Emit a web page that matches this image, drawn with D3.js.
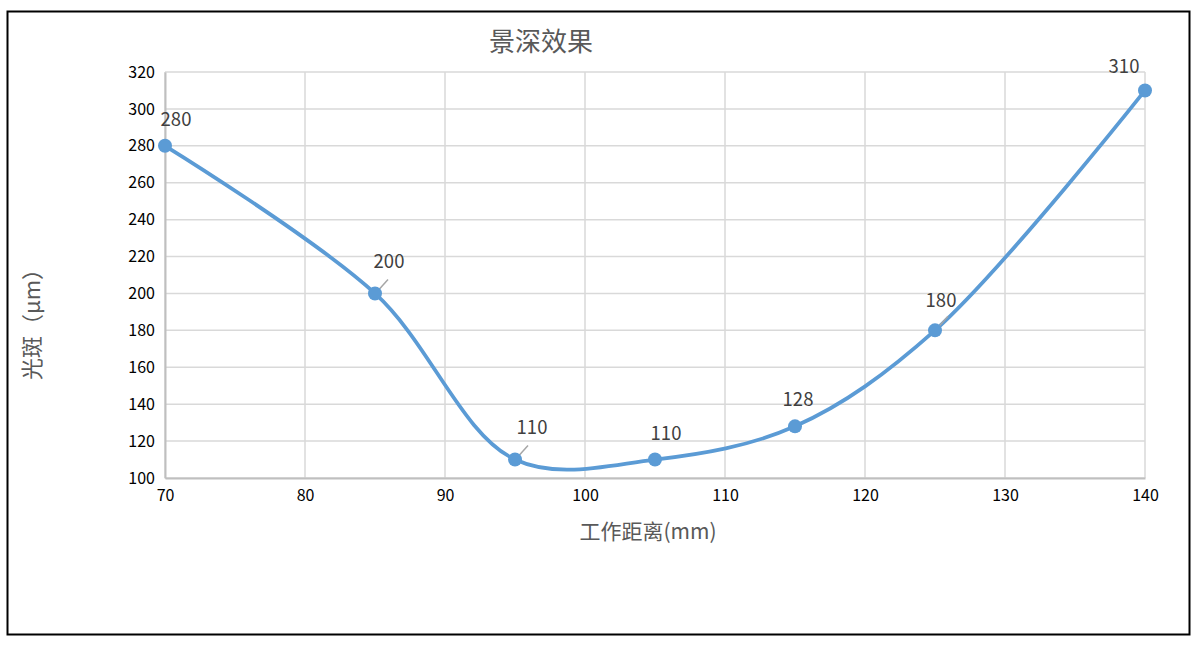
<!DOCTYPE html>
<html>
<head>
<meta charset="utf-8">
<script src="https://cdn.jsdelivr.net/npm/d3@7"></script>
<style>
body { margin: 0; background: #fff; }
text { font-family: "Noto Sans CJK SC", "Noto Sans", sans-serif; }
</style>
</head>
<body>
<div class="chart"></div>
<script>
// data
const distances = [70, 85, 95, 105, 115, 125, 140];
const spots = [280, 200, 110, 110, 128, 180, 310];
const xTicks = [70, 80, 90, 100, 110, 120, 130, 140];
const yTicks = [100, 120, 140, 160, 180, 200, 220, 240, 260, 280, 300, 320];
// label offsets from the point, and whether a leader line is drawn
const labelDx = [11, 14, 17, 11, 3, 6, -21];
const labelDy = [-26, -31, -32, -26, -26, -29, -23];
const leader = [false, true, true, false, false, true, false];

const width = 1199;
const height = 649;
const svg = d3.select('.chart')
    .append('svg')
    .attr('width', width)
    .attr('height', height)

svg.append('rect')
    .attr('x', 7.5)
    .attr('y', 11.5)
    .attr('width', 1182)
    .attr('height', 623)
    .attr('fill', '#fff')
    .attr('stroke', '#000')
    .attr('stroke-width', 2)

const x = d3.scaleLinear().domain([70, 140]).range([165, 1145]);
const y = d3.scaleLinear().domain([100, 320]).range([478, 72]);

// grid
svg.selectAll('.hgrid')
    .data(yTicks)
    .enter()
    .append('line')
    .attr('x1', x(70))
    .attr('x2', x(140))
    .attr('y1', d => y(d))
    .attr('y2', d => y(d))
    .attr('stroke', '#d9d9d9')
    .attr('stroke-width', 1.5)

svg.selectAll('.vgrid')
    .data(xTicks)
    .enter()
    .append('line')
    .attr('x1', d => x(d))
    .attr('x2', d => x(d))
    .attr('y1', y(100))
    .attr('y2', y(320))
    .attr('stroke', '#d9d9d9')
    .attr('stroke-width', 1.5)

const xAxis = svg.append('g')
    .attr('transform', `translate(0,${y(100)})`)
    .call(d3.axisBottom(x).tickValues(xTicks).tickSize(0).tickPadding(12))
const yAxis = svg.append('g')
    .attr('transform', `translate(${x(70)},0)`)
    .call(d3.axisLeft(y).tickValues(yTicks).tickSize(0).tickPadding(10))

svg.selectAll('.domain')
    .attr('stroke', '#bfbfbf')
    .attr('stroke-width', 2)
svg.selectAll('.tick text')
    .attr('font-size', 16)
    .attr('fill', '#000')
    .attr('font-family', '"Noto Sans", sans-serif')

// titles
svg.append('text')
    .text('景深效果')
    .attr('x', 541)
    .attr('y', 51)
    .attr('text-anchor', 'middle')
    .attr('font-size', 26)
    .attr('fill', '#595959')

svg.append('text')
    .text('工作距离(mm)')
    .attr('x', 648)
    .attr('y', 539)
    .attr('text-anchor', 'middle')
    .attr('font-size', 21)
    .attr('fill', '#595959')

svg.append('text')
    .text('光斑（μm）')
    .attr('transform', 'translate(40,319) rotate(-90)')
    .attr('text-anchor', 'middle')
    .attr('font-size', 22)
    .attr('fill', '#595959')

// line
const pts = distances.map((d, i) => [d, spots[i]]);
const line = d3.line()
    .x(d => x(d[0]))
    .y(d => y(d[1]))
    .curve(d3.curveCatmullRom.alpha(0.5));

svg.append('path')
    .datum(pts)
    .attr('d', line)
    .attr('fill', 'none')
    .attr('stroke', '#5b9bd5')
    .attr('stroke-width', 3.75)

// leader lines
svg.selectAll('.leader')
    .data(pts.filter((d, i) => leader[i]))
    .enter()
    .append('line')
    .attr('x1', d => x(d[0]) + 4)
    .attr('y1', d => y(d[1]) - 4)
    .attr('x2', d => x(d[0]) + 13)
    .attr('y2', d => y(d[1]) - 14)
    .attr('stroke', '#a6a6a6')
    .attr('stroke-width', 1.5)

svg.selectAll('circle')
    .data(pts)
    .enter()
    .append('circle')
    .attr('cx', d => x(d[0]))
    .attr('cy', d => y(d[1]))
    .attr('r', 7)
    .attr('fill', '#5b9bd5')

svg.selectAll('.lbl')
    .data(pts)
    .enter()
    .append('text')
    .attr('class', 'lbl')
    .text(d => d[1])
    .attr('x', (d, i) => x(d[0]) + labelDx[i])
    .attr('y', (d, i) => y(d[1]) + labelDy[i] + 6)
    .attr('text-anchor', 'middle')
    .attr('font-size', 18.5)
    .attr('fill', '#404040')
    .attr('font-family', '"Noto Sans", sans-serif')
</script>
</body>
</html>
